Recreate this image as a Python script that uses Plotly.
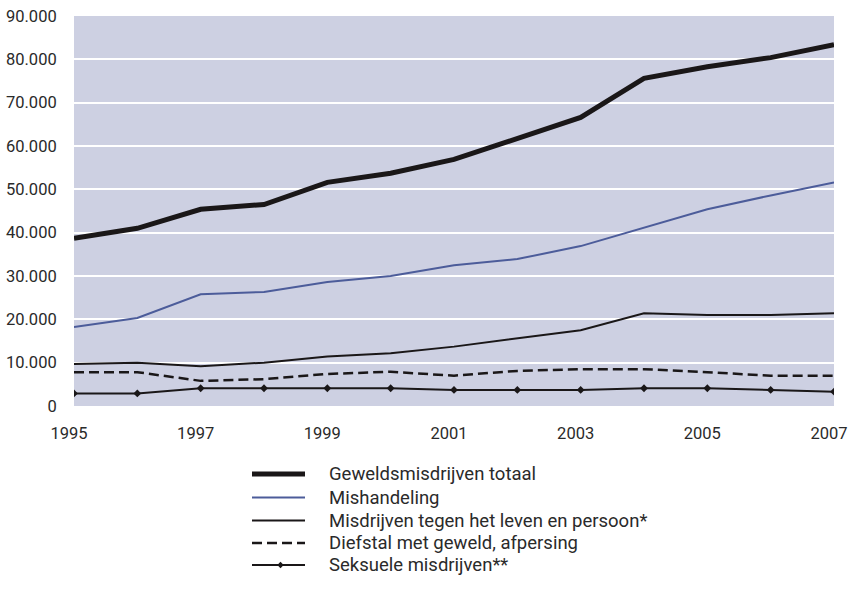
import plotly.graph_objects as go

years = list(range(1995, 2008))
totaal = [38700, 41000, 45400, 46500, 51600, 53700, 56900, 61700, 66600, 75600, 78300, 80400, 83400]
mishandeling = [18200, 20300, 25800, 26300, 28600, 30000, 32500, 33900, 36900, 41200, 45400, 48600, 51600]
leven_persoon = [9700, 10000, 9200, 10000, 11400, 12200, 13700, 15600, 17500, 21400, 21000, 21000, 21400]
diefstal = [7800, 7800, 5800, 6200, 7400, 7900, 7000, 8100, 8500, 8500, 7800, 7000, 7000]
seksueel = [2900, 2900, 4100, 4100, 4100, 4100, 3700, 3700, 3700, 4100, 4100, 3700, 3300]

names = [
    "Geweldsmisdrijven totaal",
    "Mishandeling",
    "Misdrijven tegen het leven en persoon*",
    "Diefstal met geweld, afpersing",
    "Seksuele misdrijven**",
]
x_ticks = [1995, 1997, 1999, 2001, 2003, 2005, 2007]
y_ticks = [0, 10000, 20000, 30000, 40000, 50000, 60000, 70000, 80000, 90000]

# styles
DARK = "#1a1718"
BLUE = "#4c5c9a"
styles = [
    dict(color=DARK, width=5, dash="solid", marker=False),
    dict(color=BLUE, width=2, dash="solid", marker=False),
    dict(color=DARK, width=2, dash="solid", marker=False),
    dict(color=DARK, width=2.5, dash="10px,5px", marker=False),
    dict(color=DARK, width=2, dash="solid", marker=True),
]
series = [totaal, mishandeling, leven_persoon, diefstal, seksueel]

W_FIG, H_FIG = 849, 591
L, R, T, B = 74, 15, 16, 185
PW, PH = W_FIG - L - R, H_FIG - T - B

def px(xp):
    return (xp - L) / PW

def py(yp):
    return (H_FIG - B - yp) / PH

fig = go.Figure()
for name, vals, st in zip(names, series, styles):
    fig.add_trace(go.Scatter(
        x=years, y=vals, name=name,
        mode="lines+markers" if st["marker"] else "lines",
        line=dict(color=st["color"], width=st["width"], dash=st["dash"]),
        marker=dict(symbol="diamond", size=6, color=st["color"]),
        showlegend=False,
    ))

# manual legend (below the plot)
row_y = [474, 497.5, 520.5, 543, 565]
sample_x0, sample_x1, text_x = 252, 305, 327
shapes = []
annotations = []
for name, st, yc in zip(names, styles, row_y):
    shapes.append(dict(type="line", xref="paper", yref="paper",
                       x0=px(sample_x0), x1=px(sample_x1), y0=py(yc), y1=py(yc),
                       line=dict(color=st["color"], width=st["width"], dash=st["dash"])))
    if st["marker"]:
        cx, cy, d = (sample_x0 + sample_x1) / 2 + 2, yc, 3.2
        shapes.append(dict(type="path", xref="paper", yref="paper",
                           path=f"M {px(cx - d)} {py(cy)} L {px(cx)} {py(cy - d)} "
                                f"L {px(cx + d)} {py(cy)} L {px(cx)} {py(cy + d)} Z",
                           fillcolor=st["color"], line=dict(width=0)))
    annotations.append(dict(text=name, xref="paper", yref="paper",
                            x=px(text_x), y=py(yc), xanchor="left", yanchor="middle",
                            showarrow=False, font=dict(size=18.5, color="#2a2a2a")))

fig.update_layout(
    width=W_FIG, height=H_FIG,
    margin=dict(l=L, r=R, t=T, b=B),
    plot_bgcolor="#cdd0e2",
    paper_bgcolor="white",
    font=dict(family="Roboto, Liberation Sans, sans-serif", size=16.5, color="#2a2a2a"),
    separators=",.",
    showlegend=False,
    shapes=shapes,
    annotations=annotations,
)
fig.update_xaxes(range=[1995, 2007], tickvals=x_ticks, ticktext=[str(v) for v in x_ticks],
                 showgrid=False, zeroline=False, showline=False, automargin=False,
                 ticklabeloverflow="allow", ticklabelshift=-5,
                 ticks="outside", ticklen=12, tickcolor="rgba(0,0,0,0)")
fig.update_yaxes(range=[0, 90000], tickvals=y_ticks, tickformat=",d",
                 showgrid=True, gridcolor="white", gridwidth=2, zeroline=False,
                 showline=False, automargin=False,
                 ticks="outside", ticklen=13, tickcolor="rgba(0,0,0,0)")

fig.write_html("out.html", config={"displayModeBar": False},
               post_script="document.body.style.margin='0';document.body.style.overflow='hidden';")
